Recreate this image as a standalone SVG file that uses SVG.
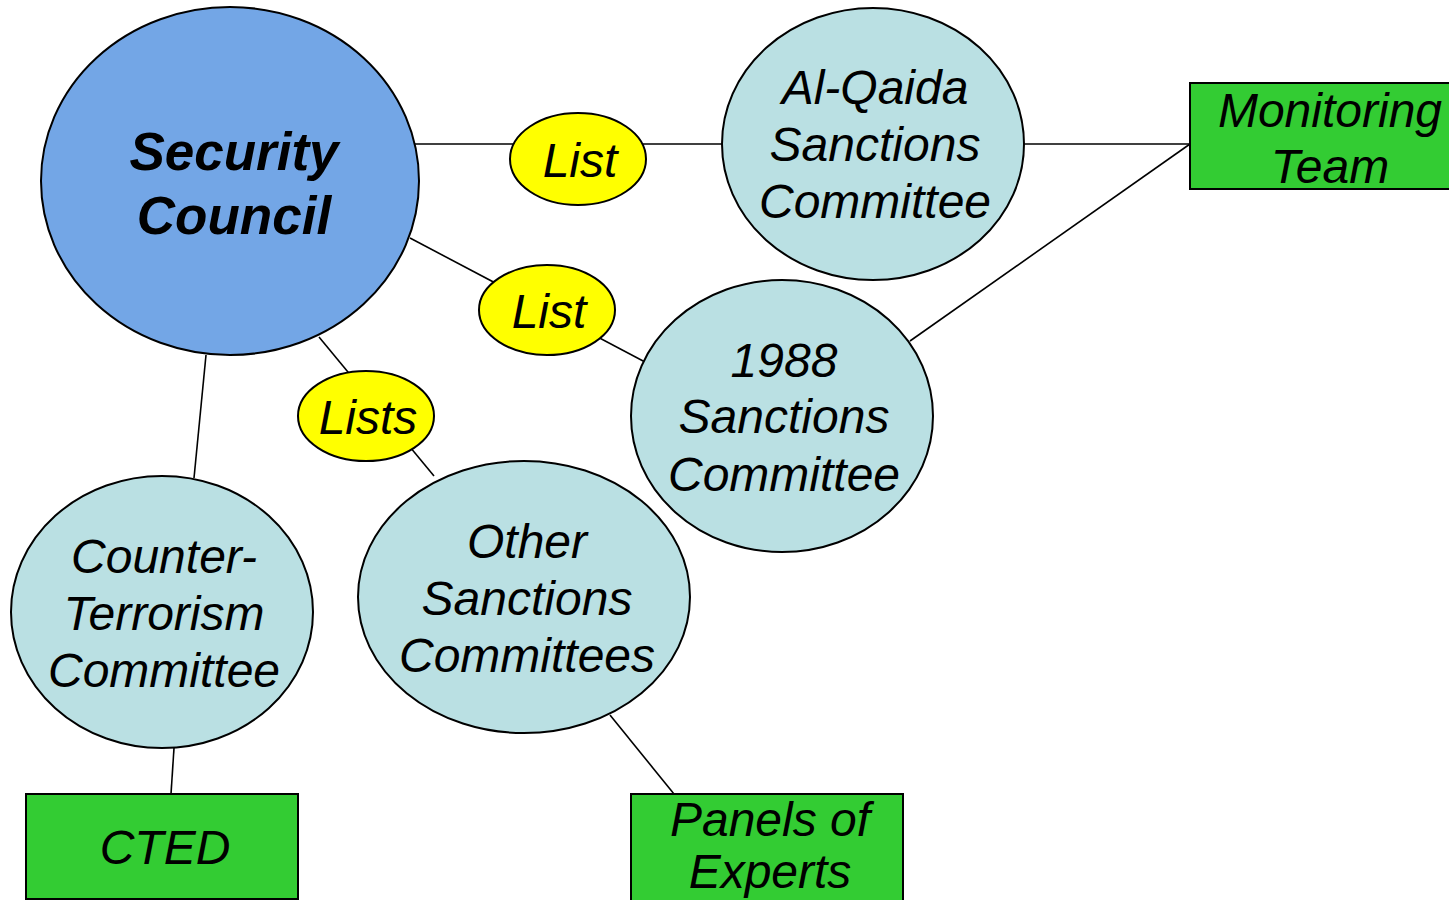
<svg xmlns="http://www.w3.org/2000/svg" width="1449" height="900" viewBox="0 0 1449 900">
<style>
.n{stroke:#000;stroke-width:2}
.c{fill:#BAE0E3}
.y{fill:#FFFF00}
.g{fill:#33CC33}
.t{font-family:"Liberation Sans",Arial,sans-serif;font-style:italic;font-size:48px;fill:#000;text-anchor:middle}
.b{font-weight:bold;font-size:53px}
line{stroke:#000;stroke-width:1.6}
</style>
<rect width="1449" height="900" fill="#fff"/>
<g id="connectors">
<line x1="415" y1="144" x2="722" y2="144"/>
<line x1="410" y1="238" x2="645" y2="362"/>
<line x1="319" y1="337" x2="434" y2="476"/>
<line x1="206" y1="355" x2="194" y2="478"/>
<line x1="174" y1="748" x2="171" y2="794"/>
<line x1="610" y1="715" x2="674" y2="794"/>
<line x1="1024" y1="144" x2="1190" y2="144"/>
<line x1="910" y1="341" x2="1190" y2="144"/>
</g>
<g id="security-council">
<ellipse class="n" cx="230" cy="181" rx="189" ry="174" fill="#73A6E6"/>
<text class="t b" x="234" y="170">Security</text>
<text class="t b" x="234" y="234">Council</text>
</g>
<g id="alqaida">
<ellipse class="n c" cx="873" cy="144" rx="151" ry="136"/>
<text class="t" x="875" y="104">Al-Qaida</text>
<text class="t" x="875" y="161">Sanctions</text>
<text class="t" x="875" y="218">Committee</text>
</g>
<g id="c1988">
<ellipse class="n c" cx="782" cy="416" rx="151" ry="136"/>
<text class="t" x="784" y="377">1988</text>
<text class="t" x="784" y="433">Sanctions</text>
<text class="t" x="784" y="491">Committee</text>
</g>
<g id="counter-terrorism">
<ellipse class="n c" cx="162" cy="612" rx="151" ry="136"/>
<text class="t" x="164" y="573">Counter-</text>
<text class="t" x="164" y="630">Terrorism</text>
<text class="t" x="164" y="687">Committee</text>
</g>
<g id="other">
<ellipse class="n c" cx="524" cy="597" rx="166" ry="136"/>
<text class="t" x="527" y="558">Other</text>
<text class="t" x="527" y="615">Sanctions</text>
<text class="t" x="527" y="672">Committees</text>
</g>
<g id="list1">
<ellipse class="n y" cx="578" cy="159" rx="68" ry="46"/>
<text class="t" x="580" y="177">List</text>
</g>
<g id="list2">
<ellipse class="n y" cx="547" cy="310" rx="68" ry="45"/>
<text class="t" x="549" y="328">List</text>
</g>
<g id="lists">
<ellipse class="n y" cx="366" cy="416" rx="68" ry="45"/>
<text class="t" x="368" y="434">Lists</text>
</g>
<g id="monitoring-team">
<rect class="n g" x="1190" y="83" width="262" height="106"/>
<text class="t" x="1330" y="127">Monitoring</text>
<text class="t" x="1330" y="183">Team</text>
</g>
<g id="cted">
<rect class="n g" x="26" y="794" width="272" height="105"/>
<text class="t" x="165" y="864">CTED</text>
</g>
<g id="panels">
<rect class="n g" x="631" y="794" width="272" height="110"/>
<text class="t" x="770" y="836">Panels of</text>
<text class="t" x="770" y="888">Experts</text>
</g>
</svg>
